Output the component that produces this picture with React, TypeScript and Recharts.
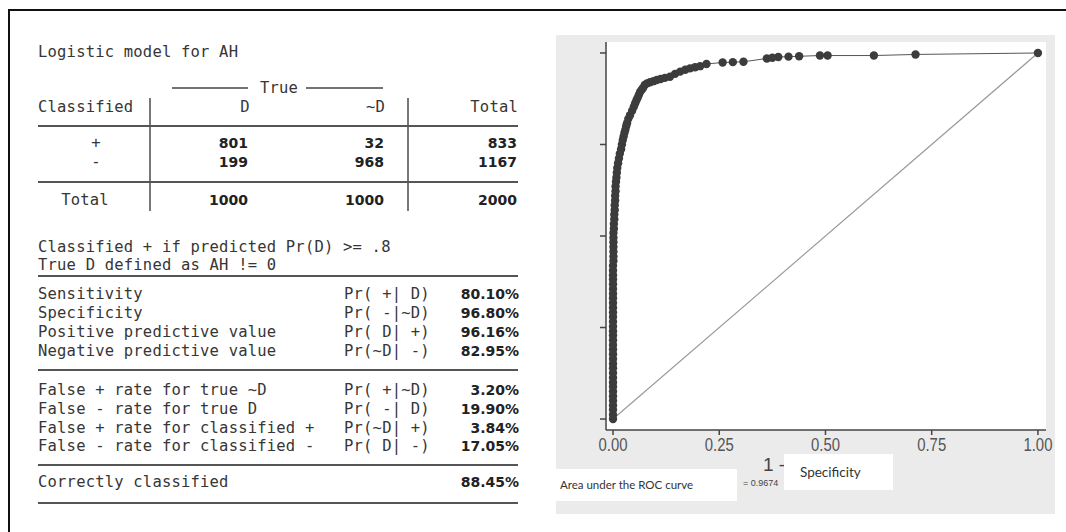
import React from "react";
import {
  ComposedChart,
  XAxis,
  YAxis,
  Line,
  ReferenceArea,
} from "recharts";

// ROC curve points: 1 - specificity ...
const fpr = [
  0, 0, 0, 0, 0, 0, 0, 0, 0, 0,
  0, 0, 0, 0, 0, 0, 0, 0, 0, 0,
  0, 0, 0, 0, 0, 0, 0, 0, 0, 0,
  0, 0, 0, 0, 0.001, 0.001, 0.001, 0.001, 0.001, 0.001,
  0.001, 0.002, 0.002, 0.003, 0.003, 0.004, 0.004, 0.005, 0.005, 0.006,
  0.006, 0.007, 0.008, 0.009, 0.01, 0.012, 0.014, 0.016, 0.019, 0.021,
  0.023, 0.025, 0.027, 0.029, 0.031, 0.033, 0.036, 0.04, 0.045, 0.049,
  0.052, 0.055, 0.058, 0.061, 0.064, 0.068, 0.071, 0.075, 0.08, 0.087,
  0.095, 0.103, 0.112, 0.122, 0.134, 0.146, 0.158, 0.17, 0.181, 0.193,
  0.205, 0.22, 0.258, 0.282, 0.307, 0.362, 0.375, 0.389, 0.413, 0.438,
  0.487, 0.505, 0.614, 0.712, 1.0,
];
// ... and sensitivity
const tpr = [
  0, 0.012, 0.025, 0.037, 0.05, 0.062, 0.075, 0.088, 0.1, 0.113,
  0.126, 0.139, 0.151, 0.164, 0.177, 0.19, 0.202, 0.215, 0.228, 0.24,
  0.253, 0.266, 0.279, 0.291, 0.304, 0.317, 0.33, 0.342, 0.355, 0.368,
  0.381, 0.393, 0.406, 0.419, 0.432, 0.444, 0.457, 0.47, 0.483, 0.495,
  0.508, 0.52, 0.533, 0.546, 0.559, 0.571, 0.584, 0.597, 0.61, 0.622,
  0.635, 0.648, 0.66, 0.673, 0.686, 0.699, 0.712, 0.725, 0.737, 0.75,
  0.762, 0.772, 0.782, 0.79, 0.8, 0.808, 0.82, 0.83, 0.842, 0.853,
  0.862, 0.87, 0.878, 0.886, 0.894, 0.9, 0.905, 0.913, 0.917, 0.92,
  0.923, 0.926, 0.929, 0.932, 0.935, 0.943, 0.949, 0.954, 0.958, 0.961,
  0.964, 0.97, 0.974, 0.975, 0.976, 0.985, 0.987, 0.989, 0.99, 0.991,
  0.993, 0.993, 0.993, 0.996, 1.0,
];
const diagX = [0, 1];
const diagY = [0, 1];
const axisTicks = [0, 0.25, 0.5, 0.75, 1];
const aucText = "= 0.9674";

// classification table (Stata estat classification)
const rowSigns = ["+", "-"];
const colD = [801, 199];
const colNotD = [32, 968];
const colTotal = [833, 1167];
const totalsRow = [1000, 1000, 2000];
const notes = ["Classified + if predicted Pr(D) >= .8", "True D defined as AH != 0"];
const statLabels1 = [
  "Sensitivity",
  "Specificity",
  "Positive predictive value",
  "Negative predictive value",
];
const statProbs1 = ["Pr( +| D)", "Pr( -|~D)", "Pr( D| +)", "Pr(~D| -)"];
const statValues1 = ["80.10%", "96.80%", "96.16%", "82.95%"];
const statLabels2 = [
  "False + rate for true ~D",
  "False - rate for true D",
  "False + rate for classified +",
  "False - rate for classified -",
];
const statProbs2 = ["Pr( +|~D)", "Pr( -| D)", "Pr(~D| +)", "Pr( D| -)"];
const statValues2 = ["3.20%", "19.90%", "3.84%", "17.05%"];
const correctValue = "88.45%";

const rocData = fpr.map((x, i) => ({ x, y: tpr[i] }));
const diagData = diagX.map((x, i) => ({ x, y: diagY[i] }));

const MONO = "'DejaVu Sans Mono', 'Liberation Mono', monospace";
const NUM = "'DejaVu Sans', Verdana, sans-serif";
const NARROW = "'Liberation Sans Narrow', 'Liberation Sans', Arial, sans-serif";

const monoStyle: React.CSSProperties = {
  fontFamily: MONO,
  fontSize: 15.5,
  letterSpacing: 0.2,
  whiteSpace: "pre",
};

function MonoText({ x, y, anchor = "start", children }: any) {
  return (
    <text x={x} y={y} fill="#363636" dominantBaseline="central" textAnchor={anchor} style={monoStyle}>
      {children}
    </text>
  );
}

function NumText({ x, y, children }: any) {
  return (
    <text
      x={x}
      y={y}
      fill="#222"
      dominantBaseline="central"
      textAnchor="end"
      fontFamily={NUM}
      fontWeight="bold"
      fontSize={14}
    >
      {children}
    </text>
  );
}

function Rule({ y }: { y: number }) {
  return <line x1={38} x2={518} y1={y} y2={y} stroke="#555" strokeWidth={2} />;
}

function ClassTable() {
  const rows1 = [294, 313, 332, 351];
  const rows2 = [390, 409, 428, 446];
  return (
    <svg width={540} height={532} style={{ position: "absolute", left: 0, top: 0 }}>
      <MonoText x={38} y={52}>Logistic model for AH</MonoText>
      <line x1={172} x2={248} y1={88} y2={88} stroke="#444" strokeWidth={1.3} />
      <MonoText x={279} y={88} anchor="middle">True</MonoText>
      <line x1={306} x2={383} y1={88} y2={88} stroke="#444" strokeWidth={1.3} />
      <MonoText x={38} y={107}>Classified</MonoText>
      <MonoText x={245} y={107} anchor="middle">D</MonoText>
      <MonoText x={385} y={107} anchor="end">~D</MonoText>
      <MonoText x={518} y={107} anchor="end">Total</MonoText>
      <line x1={150} x2={150} y1={98} y2={211} stroke="#555" strokeWidth={1.6} />
      <line x1={408} x2={408} y1={98} y2={211} stroke="#555" strokeWidth={1.6} />
      <Rule y={126} />
      {rowSigns.map((s, i) => (
        <g key={s}>
          <MonoText x={96} y={143 + i * 19} anchor="middle">{s}</MonoText>
          <NumText x={248} y={143 + i * 19}>{colD[i]}</NumText>
          <NumText x={384} y={143 + i * 19}>{colNotD[i]}</NumText>
          <NumText x={517} y={143 + i * 19}>{colTotal[i]}</NumText>
        </g>
      ))}
      <Rule y={182} />
      <MonoText x={85} y={200} anchor="middle">Total</MonoText>
      <NumText x={248} y={200}>{totalsRow[0]}</NumText>
      <NumText x={384} y={200}>{totalsRow[1]}</NumText>
      <NumText x={517} y={200}>{totalsRow[2]}</NumText>
      <MonoText x={38} y={247}>{notes[0]}</MonoText>
      <MonoText x={38} y={265}>{notes[1]}</MonoText>
      <Rule y={276} />
      {statLabels1.map((l, i) => (
        <g key={l}>
          <MonoText x={38} y={rows1[i]}>{l}</MonoText>
          <MonoText x={344} y={rows1[i]}>{statProbs1[i]}</MonoText>
          <NumText x={519} y={rows1[i]}>{statValues1[i]}</NumText>
        </g>
      ))}
      <Rule y={370} />
      {statLabels2.map((l, i) => (
        <g key={l}>
          <MonoText x={38} y={rows2[i]}>{l}</MonoText>
          <MonoText x={344} y={rows2[i]}>{statProbs2[i]}</MonoText>
          <NumText x={519} y={rows2[i]}>{statValues2[i]}</NumText>
        </g>
      ))}
      <Rule y={465} />
      <MonoText x={38} y={482}>Correctly classified</MonoText>
      <NumText x={519} y={482}>{correctValue}</NumText>
      <Rule y={503} />
    </svg>
  );
}

const XTick = ({ x, y, payload }: any) => (
  <text
    x={x}
    y={y + 8}
    textAnchor="middle"
    dominantBaseline="central"
    fill="#555"
    fontFamily={NARROW}
    fontSize={18}
    textLength={29}
    lengthAdjust="spacingAndGlyphs"
  >
    {Number(payload.value).toFixed(2)}
  </text>
);

// only the "1 -" part of the Stata axis title is visible; the rest is covered by a pasted box
const XLabel = () => (
  <text
    x={207}
    y={429}
    dominantBaseline="central"
    fill="#444"
    fontFamily={NARROW}
    fontSize={19}
  >
    1 -
  </text>
);

function RocChart() {
  return (
    <div
      style={{
        position: "absolute",
        left: 556,
        top: 35,
        width: 499,
        height: 479,
        background: "#ebebeb",
      }}
    >
      <ComposedChart
        width={515}
        height={479}
        margin={{ top: 7, right: 25, left: 0, bottom: 54 }}
        style={{ overflow: "visible" }}
      >
        <ReferenceArea
          x1={-0.0165}
          x2={1.019}
          y1={-0.03}
          y2={1.03}
          fill="#fff"
          fillOpacity={1}
          stroke="none"
        />
        <XAxis
          type="number"
          dataKey="x"
          domain={[-0.0165, 1.019]}
          ticks={axisTicks}
          allowDataOverflow
          height={30}
          stroke="#444"
          strokeWidth={1.5}
          tickSize={5}
          tick={<XTick />}
          label={<XLabel />}
        />
        <YAxis
          type="number"
          dataKey="y"
          domain={[-0.03, 1.03]}
          ticks={axisTicks}
          allowDataOverflow
          width={50}
          stroke="#444"
          strokeWidth={1.5}
          tickSize={6}
          tickFormatter={() => ""}
        />
        <Line
          data={diagData}
          dataKey="y"
          type="linear"
          stroke="#9a9a9a"
          strokeWidth={1.2}
          dot={false}
          isAnimationActive={false}
        />
        <Line
          data={rocData}
          dataKey="y"
          type="linear"
          stroke="#555"
          strokeWidth={1}
          dot={{ r: 4.2, fill: "#3c3c3c", stroke: "#3c3c3c", strokeWidth: 0 }}
          isAnimationActive={false}
        />
      </ComposedChart>
      <div
        style={{
          position: "absolute",
          left: 0,
          top: 434,
          width: 181,
          height: 32,
          background: "#fff",
          fontFamily: "Lato, 'Open Sans', sans-serif",
          fontSize: 11.5,
          color: "#333",
          lineHeight: "32px",
          paddingLeft: 4,
          boxSizing: "border-box",
        }}
      >
        Area under the ROC curve
      </div>
      <div
        style={{
          position: "absolute",
          left: 187,
          top: 442,
          fontFamily: NARROW,
          fontSize: 9,
          color: "#444",
          lineHeight: "12px",
          whiteSpace: "pre",
        }}
      >
        {aucText}
      </div>
      <div
        style={{
          position: "absolute",
          left: 228,
          top: 419,
          width: 109,
          height: 36,
          background: "#fff",
          fontFamily: "Lato, 'Open Sans', sans-serif",
          fontSize: 13.5,
          color: "#333",
          lineHeight: "36px",
          paddingLeft: 16,
          boxSizing: "border-box",
        }}
      >
        Specificity
      </div>
    </div>
  );
}

export default function App() {
  return (
    <div
      style={{
        position: "absolute",
        left: 0,
        top: 0,
        width: 1066,
        height: 532,
        background: "#fff",
        overflow: "hidden",
      }}
    >
      <div
        style={{
          position: "absolute",
          left: 8,
          top: 9,
          width: 1066,
          height: 532,
          borderTop: "2px solid #111",
          borderLeft: "2px solid #111",
        }}
      />
      <ClassTable />
      <RocChart />
    </div>
  );
}
